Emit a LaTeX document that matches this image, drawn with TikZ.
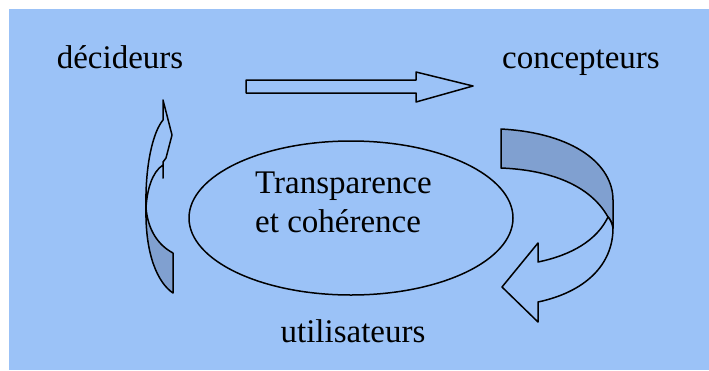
\documentclass[tikz,border=0pt]{standalone}
\usepackage{fontspec}
\setmainfont{Liberation Serif}
\definecolor{fond}{RGB}{155,194,247}
\definecolor{bande}{RGB}{128,160,208}
\tikzset{
  label/.style={font=\fontsize{33}{39}\selectfont, inner sep=0pt},
  contour/.style={draw=black, line width=1.5pt, line join=round},
}
\begin{document}
\begin{tikzpicture}[x=1pt, y=-1pt]
  \useasboundingbox (0,0) rectangle (709,370);
  \fill[fond] (9,9) rectangle (709,370);
  % textes
  \node[label, anchor=base] (decideurs) at (120,68) {décideurs};
  \node[label, anchor=base] (concepteurs) at (581,68) {concepteurs};
  \node[label, anchor=base] (utilisateurs) at (353,342) {utilisateurs};
  \draw[contour] (351,218) ellipse [x radius=162, y radius=77];
  \node[label, anchor=base west] (transp) at (255,193) {Transparence};
  \node[label, anchor=base west] (coher) at (255,232) {et cohérence};
  % fleche droite
  \draw[contour, fill=fond] (246,80) -- (416,80) -- (416,72) -- (473,86)
    -- (416,102) -- (416,93) -- (246,93) -- cycle;
  % fleche gauche
  \draw[contour, fill=bande] (146,208) .. controls (145,255) and (158,283) .. (173,293)
    -- (173,253) .. controls (158,245) and (148,230) .. cycle;
  \draw[contour, fill=fond] (146,208) .. controls (145,165) and (153,132) .. (163,120)
    -- (163,100) -- (172,135) -- (166,158) -- (163,162) -- (163,178)
    -- (163,165) .. controls (152,172) and (147,190) .. cycle;
  % fleche courbe
  \draw[contour, fill=bande] (501,129) .. controls (575,133) and (613,165) .. (613,200)
    -- (613,228) .. controls (612,223) and (610,219) .. (608,217)
    .. controls (590,185) and (550,170) .. (501,168) -- cycle;
  \draw[contour, fill=fond] (608,217) .. controls (597,240) and (572,255) .. (538,262)
    -- (538,243) -- (502,287) -- (538,322) -- (538,302)
    .. controls (585,292) and (613,265) .. (613,228) .. controls (612,223) and (610,219) .. cycle;
\end{tikzpicture}
\end{document}
